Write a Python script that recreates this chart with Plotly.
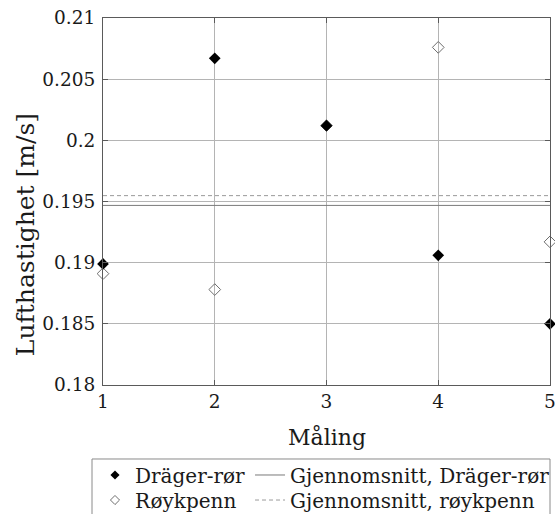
import numpy as np
import plotly.graph_objects as go

# Measurements (m/s)
maling = [1, 2, 3, 4, 5]
drager = [0.1899, 0.2067, 0.2012, 0.1906, 0.1850]
roykpenn = [0.1891, 0.1878, 0.2012, 0.2076, 0.1917]

y_ticks = [0.18, 0.185, 0.19, 0.195, 0.2, 0.205, 0.21]
y_ticktext = ["0.18", "0.185", "0.19", "0.195", "0.2", "0.205", "0.21"]
x_ticks = [1, 2, 3, 4, 5]

mean_drager = float(np.mean(drager))
mean_royk = float(np.mean(roykpenn))

FONT = "'DejaVu Serif', 'Liberation Serif', serif"
TXT = "#1a1a1a"
AX = "#5a5a5a"
GRID = "#b4b4b4"

fig = go.Figure()

# mean lines across the full x range
fig.add_trace(go.Scatter(
    x=[maling[0], maling[-1]], y=[mean_drager, mean_drager], mode="lines",
    line=dict(color="#7a7a7a", width=1), name="Gjennomsnitt, Dräger-rør",
    legend="legend2", hoverinfo="skip"))
fig.add_trace(go.Scatter(
    x=[maling[0], maling[-1]], y=[mean_royk, mean_royk], mode="lines",
    line=dict(color="#9a9a9a", width=1, dash="4px,3px"), name="Gjennomsnitt, røykpenn",
    legend="legend4", hoverinfo="skip"))

# measurement points
fig.add_trace(go.Scatter(
    x=maling, y=roykpenn, mode="markers", showlegend=False, cliponaxis=False,
    marker=dict(symbol="diamond-open", size=9, color="#6e6e6e", line=dict(width=1))))
fig.add_trace(go.Scatter(
    x=maling, y=drager, mode="markers", showlegend=False, cliponaxis=False,
    marker=dict(symbol="diamond", size=9, color="black")))

# legend entries with smaller symbols
fig.add_trace(go.Scatter(
    x=[None], y=[None], mode="markers", name="Dräger-rør", legend="legend",
    marker=dict(symbol="diamond", size=7, color="black")))
fig.add_trace(go.Scatter(
    x=[None], y=[None], mode="markers", name="Røykpenn", legend="legend3",
    marker=dict(symbol="diamond-open", size=7, color="#6e6e6e", line=dict(width=1))))

axis_common = dict(
    showline=True, linecolor=AX, linewidth=1, mirror="allticks",
    ticks="inside", ticklen=5, tickcolor=AX,
    showgrid=True, gridcolor=GRID, gridwidth=1, zeroline=False,
    tickfont=dict(family=FONT, size=18.5, color=TXT),
    automargin=False, ticklabeloverflow="allow",
)

fig.update_xaxes(range=[1, 5], tickvals=x_ticks, **axis_common)
fig.update_yaxes(
    range=[0.18, 0.21], tickvals=y_ticks, ticktext=y_ticktext, ticklabelstandoff=3,
    **axis_common,
)

# axis titles
fig.add_annotation(
    text="Måling", xref="paper", yref="paper",
    x=0.5, y=-0.1417, xanchor="center", yanchor="middle", showarrow=False,
    font=dict(family=FONT, size=22, color=TXT),
)
fig.add_annotation(
    text="Lufthastighet [m/s]", textangle=-90, xref="paper", yref="paper",
    x=-0.1745, y=0.411, xanchor="center", yanchor="middle", showarrow=False,
    font=dict(family=FONT, size=25, color=TXT),
)

# enclosing legend box
fig.add_shape(
    type="rect", xref="paper", yref="paper",
    x0=-0.0246, x1=1.0, y0=-0.38, y1=-0.2016,
    line=dict(color="#8a8a8a", width=1), fillcolor="rgba(0,0,0,0)",
)

legend_font = dict(family=FONT, size=20, color=TXT)


def legend_at(x, y):
    return dict(x=x, y=y, xanchor="left", yanchor="middle", orientation="v",
                font=legend_font, bgcolor="rgba(0,0,0,0)", borderwidth=0,
                itemwidth=30)


fig.update_layout(
    width=555, height=514,
    margin=dict(l=103, r=5, t=18, b=129, autoexpand=False),
    paper_bgcolor="white", plot_bgcolor="white",
    legend=legend_at(-0.0179, -0.2452),
    legend2=legend_at(0.3289, -0.2452),
    legend3=legend_at(-0.0179, -0.3134),
    legend4=legend_at(0.3289, -0.3134),
)

fig.write_html("out.html")
